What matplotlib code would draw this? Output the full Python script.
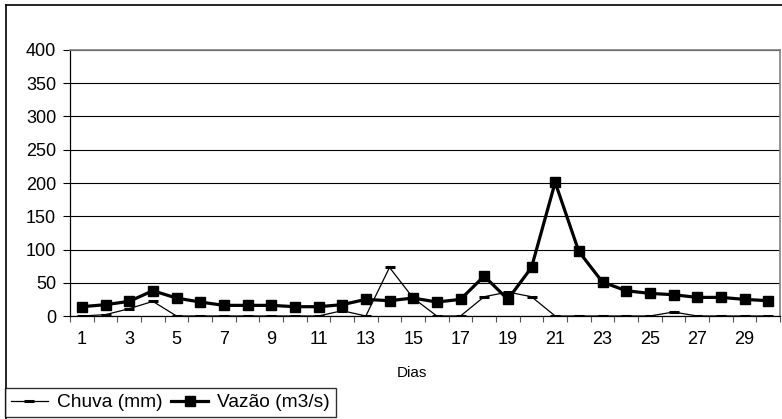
import matplotlib
matplotlib.use("Agg")
import matplotlib.pyplot as plt
from matplotlib.lines import Line2D

plt.rcParams['font.family'] = ['Liberation Sans', 'DejaVu Sans']

dias = list(range(1, 31))
chuva = [0, 2, 11, 22, 0, 0, 0, 0, 0, 0,
         0, 8, 0, 73, 27, 0, 0, 29, 36, 29,
         0, 0, 0, 0, 0, 6, 0, 0, 0, 0]
vazao = [14, 17, 22, 38, 27, 21, 16, 16, 16, 14,
         14, 17, 25, 23, 27, 21, 25, 60, 25, 73,
         201, 97, 51, 38, 34, 32, 28, 28, 25, 23]
y_ticks = [0, 50, 100, 150, 200, 250, 300, 350, 400]
x_labels = [str(d) for d in dias[::2]]

W, H = 782, 419
fig = plt.figure(figsize=(W / 100, H / 100), dpi=100)
ax = fig.add_axes([70 / W, 1 - 316 / H, (780 - 70) / W, (316 - 50) / H])

ax.plot(dias, chuva, color='black', linewidth=0.9, marker='_',
        markersize=7, markeredgewidth=2.2, label='Chuva (mm)', zorder=3)
ax.plot(dias, vazao, color='black', linewidth=2.3, marker='s',
        markersize=6.5, label='Vazão (m3/s)', zorder=4)

ax.set_xlim(0.5, 30.5)
ax.set_ylim(0, 400)
ax.set_yticks(y_ticks)
ax.set_yticklabels([str(v) for v in y_ticks], fontsize=13)
ax.yaxis.grid(True, color='black', linewidth=0.8)
ax.set_axisbelow(True)

ax.set_xticks([d + 0.5 for d in range(0, 31)])
ax.set_xticklabels([])
ax.set_xticks(dias[::2], minor=True)
ax.set_xticklabels(x_labels, minor=True, fontsize=13)
ax.tick_params(axis='x', which='major', direction='out', length=4.5, width=0.8, color='#555555')
ax.tick_params(axis='x', which='minor', length=0, pad=11)
ax.tick_params(axis='y', direction='out', length=5, width=0.8, pad=5)
fig.text(412 / W, 1 - 373 / H, 'Dias', fontsize=11, ha='center', va='center')

for s in ['top', 'right']:
    ax.spines[s].set_color('#808080')
    ax.spines[s].set_linewidth(1.2)
for s in ['left', 'bottom']:
    ax.spines[s].set_color('black')
    ax.spines[s].set_linewidth(0.9)

# outer chart border
fig.add_artist(Line2D([6 / W, 1], [1 - 5 / H, 1 - 5 / H], color='black', linewidth=1.2, transform=fig.transFigure))
fig.add_artist(Line2D([6 / W, 6 / W], [0, 1 - 5 / H], color='black', linewidth=1.2, transform=fig.transFigure))

leg = fig.legend(loc='lower left', bbox_to_anchor=(5 / W, 1 - 417 / H), ncol=2,
                 frameon=True, fancybox=False, edgecolor='black', fontsize=13.8,
                 handlelength=1.95, handletextpad=0.45, columnspacing=0.45,
                 borderpad=0.3, borderaxespad=0)
leg.get_frame().set_linewidth(1.0)

fig.savefig('out.png', dpi=100)
